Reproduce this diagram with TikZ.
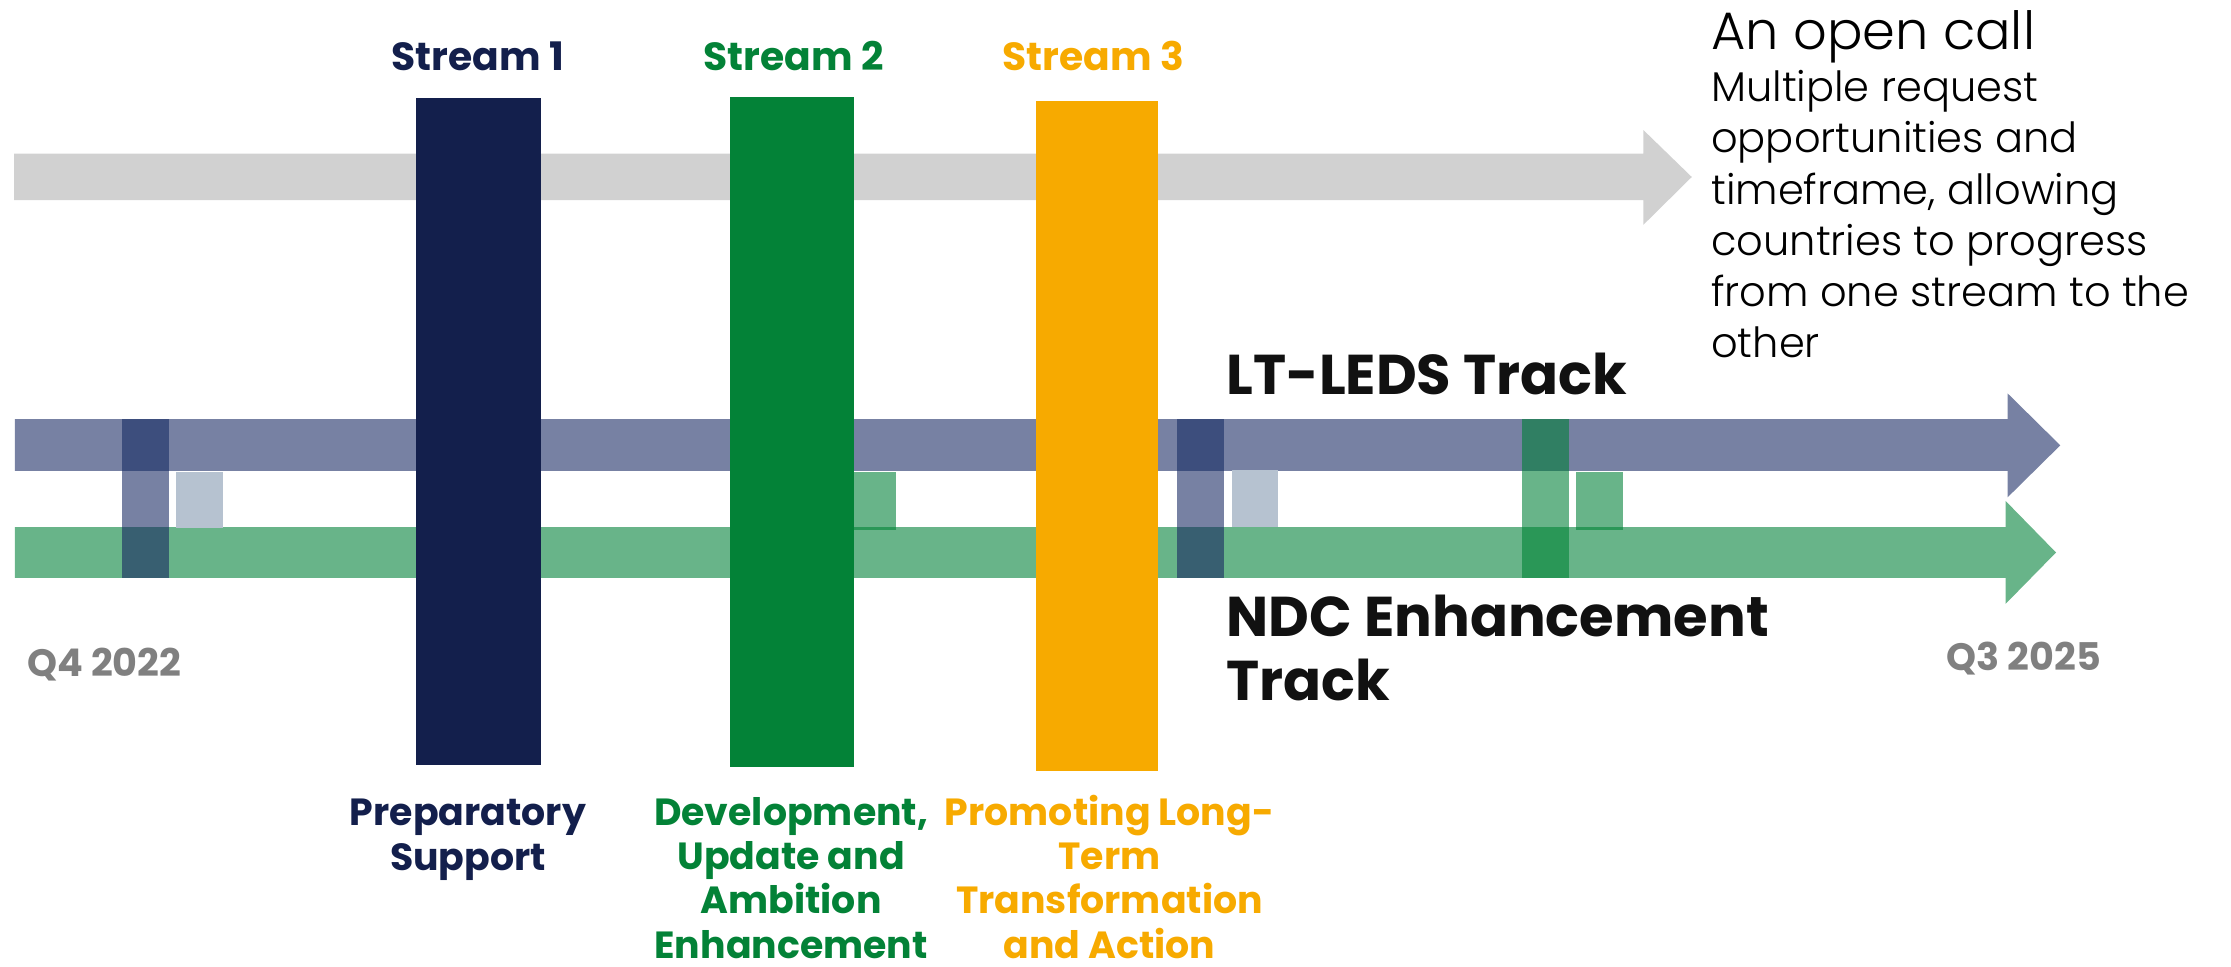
\documentclass[tikz,border=0pt]{standalone}
\usepackage{fontspec}
\setmainfont{Poppins}
\newfontfamily\lightfont{Poppins Light}
\definecolor{navy}{HTML}{131F4C}
\definecolor{sgreen}{HTML}{038237}
\definecolor{sorange}{HTML}{F7AA00}
\definecolor{greyarrow}{HTML}{D1D1D1}
\definecolor{trackblue}{HTML}{7781A3}
\definecolor{trackgreen}{HTML}{68B489}
\definecolor{segbluetop}{HTML}{3D4E7D}
\definecolor{segbluebot}{HTML}{385F71}
\definecolor{lightbox}{HTML}{B6C2D0}
\definecolor{seggreentop}{HTML}{307F63}
\definecolor{seggreenbot}{HTML}{2A9757}
\definecolor{qgrey}{HTML}{808080}
\definecolor{ink}{HTML}{111111}
\begin{document}
\begin{tikzpicture}[x=0.5pt,y=-0.5pt,
  streamlabel/.style={font=\bfseries\fontsize{13.8}{16}\selectfont, anchor=base, inner sep=0pt},
  desclabel/.style={font=\bfseries\fontsize{13.3}{15.6}\selectfont, anchor=base, align=center, inner sep=0pt},
  tracklabel/.style={font=\bfseries\fontsize{19.7}{22.2}\selectfont, text=ink, anchor=base west, align=left, inner sep=0pt},
  qlabel/.style={font=\bfseries\fontsize{13.4}{15}\selectfont, text=qgrey, inner sep=0pt},
  bar/.style={draw=none}
]
\useasboundingbox (0,0) rectangle (1568,679);
% grey open-call arrow
\fill[greyarrow] (10,108) -- (1155,108) -- (1155,91.4) -- (1189,124.4) -- (1155,158) -- (1155,140.6) -- (10,140.6) -- cycle;
% LT-LEDS track
\fill[trackblue] (10.5,294.5) -- (1411,294.5) -- (1411,276.5) -- (1448,313) -- (1411,349.5) -- (1411,331) -- (10.5,331) -- cycle;
% NDC track
\fill[trackgreen] (10.5,370.4) -- (1409.5,370.4) -- (1409.5,352) -- (1445,388.3) -- (1409.5,424.5) -- (1409.5,406.2) -- (10.5,406.2) -- cycle;
% blue transfer segments
\foreach \xa/\xb in {86/118.6, 827.3/860.3}{
  \fill[segbluetop] (\xa,294.5) rectangle (\xb,331);
  \fill[trackblue] (\xa,331) rectangle (\xb,370.4);
  \fill[segbluebot] (\xa,370.4) rectangle (\xb,406.5);
}
\fill[lightbox] (124,331.6) rectangle (157,371);
\fill[lightbox] (866,330) rectangle (898.3,370.4);
% green transfer segment
\fill[seggreentop] (1069.7,294.5) rectangle (1102.8,331);
\fill[trackgreen] (1069.7,331) rectangle (1102.8,370.4);
\fill[seggreenbot] (1069.7,370.4) rectangle (1102.8,406.2);
\foreach \xa/\xb in {599.6/629.8, 1107.7/1140.7}{
  \fill[trackgreen] (\xa,331.8) rectangle (\xb,372.5);
  \fill[seggreenbot] (\xa,370.6) rectangle (\xb,372.5);
}
% stream bars
\node[bar, fill=navy, minimum width=87.7pt*0.5, minimum height=468.7pt*0.5, anchor=north west, inner sep=0pt] (s1) at (291.8,68.7) {};
\node[bar, fill=sgreen, minimum width=87.2pt*0.5, minimum height=470.9pt*0.5, anchor=north west, inner sep=0pt] (s2) at (512.4,68) {};
\node[bar, fill=sorange, minimum width=86.1pt*0.5, minimum height=470.8pt*0.5, anchor=north west, inner sep=0pt] (s3) at (727.4,70.8) {};
% stream titles
\node[streamlabel, text=navy] (t1) at (335.8,49.7) {Stream 1};
\node[streamlabel, text=sgreen] (t2) at (557.8,49.7) {Stream 2};
\node[streamlabel, text=sorange] (t3) at (768.5,49.7) {Stream 3};
% stream descriptions (base anchor = last line)
\node[desclabel, text=navy] (d1) at (328.9,611.5) {Preparatory\\Support};
\node[desclabel, text=sgreen] (d2) at (556,673.5) {Development,\\Update and\\Ambition\\Enhancement};
\node[desclabel, text=sorange] (d3) at (779.8,673.5) {Promoting Long-\\Term\\Transformation\\and Action};
% open call text
\node[font=\lightfont\fontsize{18.5}{22}\selectfont, text=black, anchor=base west, inner sep=0pt] (oc) at (1202.3,35) {An open call};
\node[font=\lightfont\fontsize{14.6}{18}\selectfont, text=black, anchor=base west, align=left, inner sep=0pt] (ocd) at (1202.3,251.5) {Multiple request\\opportunities and\\timeframe, allowing\\countries to progress\\from one stream to the\\other};
% track labels
\node[tracklabel] (lt) at (861.7,277.6) {LT-LEDS Track};
\node[tracklabel] (ndc) at (861.7,492) {NDC Enhancement\\Track};
% dates
\node[qlabel, anchor=base west] (q1) at (18.7,475.8) {Q4 2022};
\node[qlabel, anchor=base east] (q2) at (1477,471) {Q3 2025};
\end{tikzpicture}
\end{document}
